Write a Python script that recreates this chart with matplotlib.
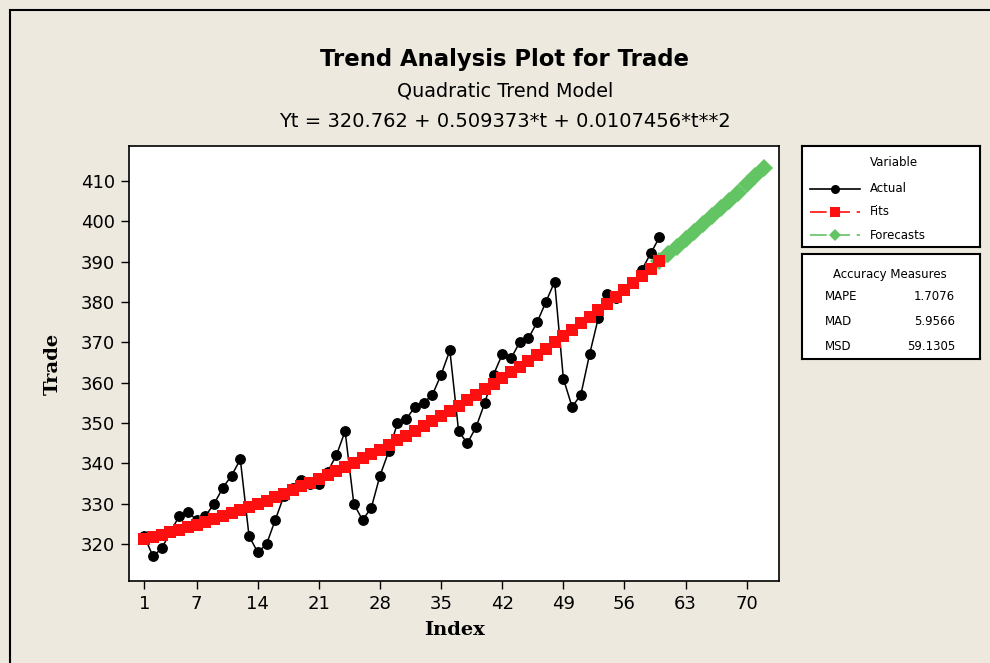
import numpy as np
import matplotlib.pyplot as plt
from matplotlib.patches import Rectangle
from matplotlib.lines import Line2D

# Trade series (index 1..60)
actual = [322, 317, 319, 323, 327, 328, 326, 327, 330, 334,
          337, 341, 322, 318, 320, 326, 332, 334, 336, 335,
          335, 338, 342, 348, 330, 326, 329, 337, 343, 350,
          351, 354, 355, 357, 362, 368, 348, 345, 349, 355,
          362, 367, 366, 370, 371, 375, 380, 385, 361, 354,
          357, 367, 376, 382, 381, 383, 385, 388, 392, 396]
n_forecast = 12

# quadratic trend coefficients b0, b1, b2
coef = [320.762, 0.509373, 0.0107456]

accuracy_names = ["MAPE", "MAD", "MSD"]
accuracy_values = ["1.7076", "5.9566", "59.1305"]

x_ticks = [1, 7, 14, 21, 28, 35, 42, 49, 56, 63, 70]
y_ticks = [320, 330, 340, 350, 360, 370, 380, 390, 400, 410]

t_fit = np.arange(1, len(actual) + 1)
t_fc = np.arange(len(actual), len(actual) + n_forecast + 1)
fits = coef[0] + coef[1] * t_fit + coef[2] * t_fit ** 2
forecasts = coef[0] + coef[1] * t_fc + coef[2] * t_fc ** 2

bg = '#EDE9DF'
red = '#FF1010'
green = '#62C462'
font = 'DejaVu Sans'

fig = plt.figure(figsize=(9.9, 6.63), dpi=100, facecolor=bg)
ax = fig.add_axes([0.1303, 0.1237, 0.6566, 0.6561])
ax.set_facecolor('white')

ax.plot(t_fit, actual, color='black', lw=1.1, marker='o', ms=6.8, zorder=3)
ax.plot(t_fc, forecasts, color=green, lw=1, marker='D', ms=9, mew=0, zorder=2)
ax.plot(t_fit, fits, color=red, lw=1, marker='s', ms=8.5, mew=0, zorder=4)

ax.set_xlim(-0.75, 73.7)
ax.set_ylim(310.9, 418.6)
ax.set_xticks(x_ticks)
ax.set_yticks(y_ticks)
ax.tick_params(direction='out', length=6, width=1, labelsize=13, pad=4)
for s in ax.spines.values():
    s.set_linewidth(1.2)

ax.set_xlabel('Index', fontsize=14, fontweight='bold', family='DejaVu Serif', labelpad=6)
ax.set_ylabel('Trade', fontsize=14, fontweight='bold', family='DejaVu Serif', labelpad=14)

# titles centred in the graph window
cx = 505 / 990
fig.text(cx, 0.9005, 'Trend Analysis Plot for Trade', ha='center', va='baseline',
         fontsize=16.4, fontweight='bold', family=font)
fig.text(cx, 0.8537, 'Quadratic Trend Model', ha='center', va='baseline',
         fontsize=13.8, family=font)
fig.text(cx, 0.8084, 'Yt = %g + %g*t + %g*t**2' % tuple(coef), ha='center',
         va='baseline', fontsize=14, family=font)

# outer frame
fig.add_artist(Rectangle((10 / 990, -0.1), 1.1, 1.085, transform=fig.transFigure,
                         fill=False, ec='black', lw=1.5))

# legend box
lg = fig.add_axes([0.8101, 0.6275, 0.1798, 0.1523])
lg.set_xlim(0, 178)
lg.set_ylim(101, 0)
lg.set_xticks([])
lg.set_yticks([])
lg.text(92, 17, 'Variable', ha='center', va='center', fontsize=8.5, family=font)
items = [('Actual', 'black', 'o', '-'), ('Fits', red, 's', (0, (10, 4))),
         ('Forecasts', green, 'D', (0, (10, 4)))]
for i, (name, c, m, ls) in enumerate(items):
    y = 42.7 + 23.2 * i
    lg.add_line(Line2D([8, 58], [y, y], color=c, lw=1.2, ls=ls))
    lg.add_line(Line2D([33], [y], color=c, marker=m, ms=6.5, mew=0))
    lg.text(68, y, name, ha='left', va='center', fontsize=8.5, family=font)

# accuracy box
acc = fig.add_axes([0.8101, 0.4585, 0.1798, 0.1584])
acc.set_xlim(0, 178)
acc.set_ylim(105, 0)
acc.set_xticks([])
acc.set_yticks([])
acc.text(88, 21, 'Accuracy Measures', ha='center', va='center', fontsize=8.5, family=font)
for i, (name, val) in enumerate(zip(accuracy_names, accuracy_values)):
    y = 42.7 + 25 * i
    acc.text(23, y, name, ha='left', va='center', fontsize=8.5, family=font)
    acc.text(153, y, val, ha='right', va='center', fontsize=8.5, family=font)
for a in (lg, acc):
    for s in a.spines.values():
        s.set_linewidth(1.5)

fig.savefig('out.png', dpi=100, facecolor=bg)
